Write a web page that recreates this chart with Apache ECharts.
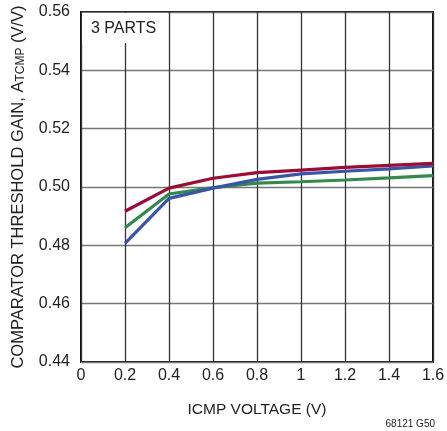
<!DOCTYPE html>
<html>
<head>
<meta charset="utf-8">
<script src="https://cdn.jsdelivr.net/npm/echarts@6/dist/echarts.min.js"></script>
<style>
  html, body { margin: 0; padding: 0; background: #fff; }
  #chart { width: 447px; height: 431px; }
</style>
</head>
<body>
<div id="chart"></div>
<script>
// ICMP voltage (V)
const icmpVoltage = [0.2, 0.4, 0.6, 0.8, 1.0, 1.2, 1.4, 1.6]
// threshold gain of the three parts
const partRed = [0.4917, 0.4996, 0.5030, 0.5049, 0.5058, 0.5067, 0.5074, 0.5081]
const partBlue = [0.4807, 0.4961, 0.4996, 0.5026, 0.5045, 0.5054, 0.5062, 0.5072]
const partGreen = [0.4860, 0.4976, 0.4998, 0.5013, 0.5018, 0.5024, 0.5031, 0.5039]

const font = '"Liberation Sans", Arial, sans-serif'

function pairs(ys) {
  return icmpVoltage.map((x, i) => [x, ys[i]])
}

const chart = echarts.init(document.getElementById('chart'))

chart.setOption({
  animation: false,
  grid: {
    left: 81, right: 14, top: 12, bottom: 69,
    outerBoundsMode: 'none',
    containLabel: false,
    show: true, borderColor: '#111', borderWidth: 2
  },
  xAxis: {
    type: 'value',
    min: 0, max: 1.6, interval: 0.2,
    name: 'ICMP VOLTAGE (V)',
    nameLocation: 'middle',
    nameGap: 40,
    nameTextStyle: { fontFamily: font, fontSize: 15.5, color: '#222' },
    axisLine: { show: false },
    axisTick: { show: false },
    axisLabel: {
      fontFamily: font, fontSize: 16, color: '#222', margin: 6,
      formatter: (v) => String(Math.round(v * 10) / 10)
    },
    splitLine: { show: true, lineStyle: { color: '#333', width: 1.3 } }
  },
  yAxis: {
    type: 'value',
    min: 0.44, max: 0.56, interval: 0.02,
    name: '{a|COMPARATOR THRESHOLD GAIN, A}{s|TCMP}{a| (V/V)}',
    nameLocation: 'middle',
    nameRotate: 90,
    nameGap: 54,
    nameTextStyle: {
      rich: {
        a: { fontFamily: font, fontSize: 16.5, color: '#222' },
        s: { fontFamily: font, fontSize: 12, color: '#222', padding: [6, 0, 0, 0] }
      }
    },
    axisLine: { show: false },
    axisTick: { show: false },
    axisLabel: {
      fontFamily: font, fontSize: 16, color: '#222', margin: 11,
      formatter: (v) => v.toFixed(2)
    },
    splitLine: { show: true, lineStyle: { color: '#777', width: 1.3 } }
  },
  series: [
    {
      type: 'line', data: pairs(partGreen), symbol: 'none',
      lineStyle: { color: '#338a4c', width: 3.2 }
    },
    {
      type: 'line', data: pairs(partBlue), symbol: 'none',
      lineStyle: { color: '#3a55a8', width: 3.2 }
    },
    {
      type: 'line', data: pairs(partRed), symbol: 'none',
      lineStyle: { color: '#9a0d35', width: 3.2 }
    }
  ],
  graphic: [
    {
      type: 'rect', left: 82, top: 13,
      shape: { width: 86, height: 30 },
      style: { fill: '#fff' }, z: 10
    },
    {
      type: 'text', left: 91, top: 21,
      style: { text: '3 PARTS', fontFamily: font, fontSize: 16, fill: '#222' }, z: 11
    },
    {
      type: 'text', right: 12, top: 419,
      style: { text: '68121 G50', fontFamily: font, fontSize: 10, fill: '#222' }
    }
  ]
})
</script>
</body>
</html>
